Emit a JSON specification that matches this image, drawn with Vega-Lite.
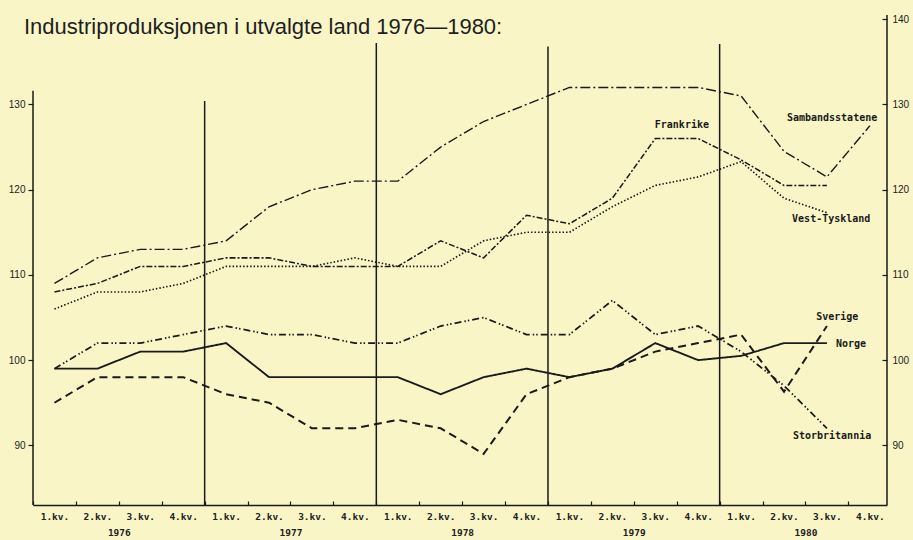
{
  "$schema": "https://vega.github.io/schema/vega-lite/v6.json",
  "width": 854,
  "height": 490,
  "autosize": "none",
  "padding": {"left": 33, "top": 15, "right": 26, "bottom": 35},
  "background": "#f9f5c6",
  "config": {"view": {"stroke": null}, "axis": {"grid": false}},
  "title": {"text": "Industriproduksjonen i utvalgte land 1976—1980:", "anchor": "start", "frame": "group", "font": "Liberation Sans", "fontSize": 22, "fontWeight": "normal", "color": "#1e1e1e", "dx": -9, "offset": -42, "baseline": "alphabetic"},
  "datasets": {
    "serier": [
      {"land":"Sambandsstatene","t":0,"v":109},{"land":"Sambandsstatene","t":1,"v":112},{"land":"Sambandsstatene","t":2,"v":113},{"land":"Sambandsstatene","t":3,"v":113},
      {"land":"Sambandsstatene","t":4,"v":114},{"land":"Sambandsstatene","t":5,"v":118},{"land":"Sambandsstatene","t":6,"v":120},{"land":"Sambandsstatene","t":7,"v":121},
      {"land":"Sambandsstatene","t":8,"v":121},{"land":"Sambandsstatene","t":9,"v":125},{"land":"Sambandsstatene","t":10,"v":128},{"land":"Sambandsstatene","t":11,"v":130},
      {"land":"Sambandsstatene","t":12,"v":132},{"land":"Sambandsstatene","t":13,"v":132},{"land":"Sambandsstatene","t":14,"v":132},{"land":"Sambandsstatene","t":15,"v":132},
      {"land":"Sambandsstatene","t":16,"v":131},{"land":"Sambandsstatene","t":17,"v":124.5},{"land":"Sambandsstatene","t":18,"v":121.5},{"land":"Sambandsstatene","t":19,"v":127.5},
      {"land":"Frankrike","t":0,"v":108},{"land":"Frankrike","t":1,"v":109},{"land":"Frankrike","t":2,"v":111},{"land":"Frankrike","t":3,"v":111},
      {"land":"Frankrike","t":4,"v":112},{"land":"Frankrike","t":5,"v":112},{"land":"Frankrike","t":6,"v":111},{"land":"Frankrike","t":7,"v":111},
      {"land":"Frankrike","t":8,"v":111},{"land":"Frankrike","t":9,"v":114},{"land":"Frankrike","t":10,"v":112},{"land":"Frankrike","t":11,"v":117},
      {"land":"Frankrike","t":12,"v":116},{"land":"Frankrike","t":13,"v":119},{"land":"Frankrike","t":14,"v":126},{"land":"Frankrike","t":15,"v":126},
      {"land":"Frankrike","t":16,"v":123.5},{"land":"Frankrike","t":17,"v":120.5},{"land":"Frankrike","t":18,"v":120.5},
      {"land":"Vest-Tyskland","t":0,"v":106},{"land":"Vest-Tyskland","t":1,"v":108},{"land":"Vest-Tyskland","t":2,"v":108},{"land":"Vest-Tyskland","t":3,"v":109},
      {"land":"Vest-Tyskland","t":4,"v":111},{"land":"Vest-Tyskland","t":5,"v":111},{"land":"Vest-Tyskland","t":6,"v":111},{"land":"Vest-Tyskland","t":7,"v":112},
      {"land":"Vest-Tyskland","t":8,"v":111},{"land":"Vest-Tyskland","t":9,"v":111},{"land":"Vest-Tyskland","t":10,"v":114},{"land":"Vest-Tyskland","t":11,"v":115},
      {"land":"Vest-Tyskland","t":12,"v":115},{"land":"Vest-Tyskland","t":13,"v":118},{"land":"Vest-Tyskland","t":14,"v":120.5},{"land":"Vest-Tyskland","t":15,"v":121.5},
      {"land":"Vest-Tyskland","t":16,"v":123.3},{"land":"Vest-Tyskland","t":17,"v":119},{"land":"Vest-Tyskland","t":18,"v":117.3},
      {"land":"Storbritannia","t":0,"v":99},{"land":"Storbritannia","t":1,"v":102},{"land":"Storbritannia","t":2,"v":102},{"land":"Storbritannia","t":3,"v":103},
      {"land":"Storbritannia","t":4,"v":104},{"land":"Storbritannia","t":5,"v":103},{"land":"Storbritannia","t":6,"v":103},{"land":"Storbritannia","t":7,"v":102},
      {"land":"Storbritannia","t":8,"v":102},{"land":"Storbritannia","t":9,"v":104},{"land":"Storbritannia","t":10,"v":105},{"land":"Storbritannia","t":11,"v":103},
      {"land":"Storbritannia","t":12,"v":103},{"land":"Storbritannia","t":13,"v":107},{"land":"Storbritannia","t":14,"v":103},{"land":"Storbritannia","t":15,"v":104},
      {"land":"Storbritannia","t":16,"v":101},{"land":"Storbritannia","t":17,"v":97},{"land":"Storbritannia","t":18,"v":92},
      {"land":"Norge","t":0,"v":99},{"land":"Norge","t":1,"v":99},{"land":"Norge","t":2,"v":101},{"land":"Norge","t":3,"v":101},
      {"land":"Norge","t":4,"v":102},{"land":"Norge","t":5,"v":98},{"land":"Norge","t":6,"v":98},{"land":"Norge","t":7,"v":98},
      {"land":"Norge","t":8,"v":98},{"land":"Norge","t":9,"v":96},{"land":"Norge","t":10,"v":98},{"land":"Norge","t":11,"v":99},
      {"land":"Norge","t":12,"v":98},{"land":"Norge","t":13,"v":99},{"land":"Norge","t":14,"v":102},{"land":"Norge","t":15,"v":100},
      {"land":"Norge","t":16,"v":100.5},{"land":"Norge","t":17,"v":102},{"land":"Norge","t":18,"v":102},
      {"land":"Sverige","t":0,"v":95},{"land":"Sverige","t":1,"v":98},{"land":"Sverige","t":2,"v":98},{"land":"Sverige","t":3,"v":98},
      {"land":"Sverige","t":4,"v":96},{"land":"Sverige","t":5,"v":95},{"land":"Sverige","t":6,"v":92},{"land":"Sverige","t":7,"v":92},
      {"land":"Sverige","t":8,"v":93},{"land":"Sverige","t":9,"v":92},{"land":"Sverige","t":10,"v":89},{"land":"Sverige","t":11,"v":96},
      {"land":"Sverige","t":12,"v":98},{"land":"Sverige","t":13,"v":99},{"land":"Sverige","t":14,"v":101},{"land":"Sverige","t":15,"v":102},
      {"land":"Sverige","t":16,"v":103},{"land":"Sverige","t":17,"v":96.3},{"land":"Sverige","t":18,"v":104}
    ],
    "grenser": [
      {"t": -0.5, "topp": 131.6},
      {"t": 3.5, "topp": 130.4},
      {"t": 7.5, "topp": 137.2},
      {"t": 11.5, "topp": 136.8},
      {"t": 15.5, "topp": 137.1},
      {"t": 19.4, "topp": 140.5}
    ],
    "navn": [
      {"land": "Frankrike", "t": 14.62, "v": 127.6},
      {"land": "Sambandsstatene", "t": 18.12, "v": 128.4},
      {"land": "Vest-Tyskland", "t": 18.1, "v": 116.6},
      {"land": "Sverige", "t": 18.24, "v": 105.1},
      {"land": "Norge", "t": 18.56, "v": 101.9},
      {"land": "Storbritannia", "t": 18.12, "v": 91.1}
    ]
  },
  "layer": [
    {
      "data": {"name": "grenser"},
      "mark": {"type": "rule", "color": "#1a1a1a", "strokeWidth": 1.5},
      "encoding": {
        "x": {"field": "t", "type": "quantitative",
          "scale": {"domain": [-0.5, 19.4], "nice": false, "zero": false},
          "axis": {"orient": "bottom", "values": [-0.5, 0.5, 1.5, 2.5, 3.5, 4.5, 5.5, 6.5, 7.5, 8.5, 9.5, 10.5, 11.5, 12.5, 13.5, 14.5, 15.5, 16.5, 17.5, 18.5],
            "labels": false, "ticks": true, "tickSize": -4, "tickColor": "#1a1a1a", "tickWidth": 1.2,
            "domain": true, "domainColor": "#1a1a1a", "domainWidth": 1.5, "title": null}},
        "y": {"field": "topp", "type": "quantitative",
          "scale": {"domain": [83, 140.5], "nice": false, "zero": false},
          "axis": {"orient": "right", "values": [90, 100, 110, 120, 130, 140], "domain": false,
            "ticks": true, "tickSize": -5, "tickColor": "#1a1a1a", "tickWidth": 1.2, "labelPadding": 10,
            "labelFont": "Liberation Sans", "labelFontSize": 10, "labelColor": "#222222", "title": null}},
        "y2": {"datum": 83}
      }
    },
    {
      "data": {"name": "serier"},
      "mark": {"type": "line", "color": "#1a1a1a", "strokeCap": "butt", "strokeJoin": "miter"},
      "encoding": {
        "x": {"field": "t", "type": "quantitative",
          "axis": {"orient": "bottom", "values": [0,1,2,3,4,5,6,7,8,9,10,11,12,13,14,15,16,17,18,19],
            "labelExpr": "(datum.value % 4 + 1) + '.kv.'", "ticks": false, "domain": false, "labelPadding": 6,
            "labelFont": "DejaVu Sans Mono", "labelFontSize": 9.5, "labelFontWeight": "bold", "labelColor": "#222222", "title": null}},
        "y": {"field": "v", "type": "quantitative",
          "axis": {"orient": "left", "values": [90, 100, 110, 120, 130], "domain": false,
            "ticks": true, "tickSize": 5, "tickColor": "#1a1a1a", "tickWidth": 1.2, "labelPadding": 3,
            "labelFont": "Liberation Sans", "labelFontSize": 10, "labelColor": "#222222", "title": null}},
        "strokeDash": {"field": "land", "type": "nominal", "legend": null,
          "scale": {"domain": ["Sambandsstatene", "Frankrike", "Vest-Tyskland", "Storbritannia", "Norge", "Sverige"],
            "range": [[10, 3, 2, 3], [6, 2, 2, 2], [1.5, 2], [7, 3, 1.5, 2, 1.5, 3], [1, 0], [8, 5]]}},
        "strokeWidth": {"field": "land", "type": "nominal", "legend": null,
          "scale": {"domain": ["Sambandsstatene", "Frankrike", "Vest-Tyskland", "Storbritannia", "Norge", "Sverige"],
            "range": [1.4, 2, 1.2, 1.1, 2.2, 1.5]}}
      }
    },
    {
      "data": {"name": "navn"},
      "mark": {"type": "text", "font": "DejaVu Sans Mono", "fontSize": 10, "fontWeight": "bold", "color": "#1a1a1a", "align": "center", "baseline": "middle"},
      "encoding": {
        "x": {"field": "t", "type": "quantitative",
          "axis": {"orient": "bottom", "values": [1.5, 5.5, 9.5, 13.5, 17.5],
            "labelExpr": "1976 + floor(datum.value / 4)", "ticks": false, "domain": false, "labelPadding": 22,
            "labelFont": "DejaVu Sans Mono", "labelFontSize": 9.5, "labelFontWeight": "bold", "labelColor": "#222222", "title": null}},
        "y": {"field": "v", "type": "quantitative", "axis": null},
        "text": {"field": "land"}
      }
    }
  ],
  "resolve": {"axis": {"x": "independent", "y": "independent"}}
}
